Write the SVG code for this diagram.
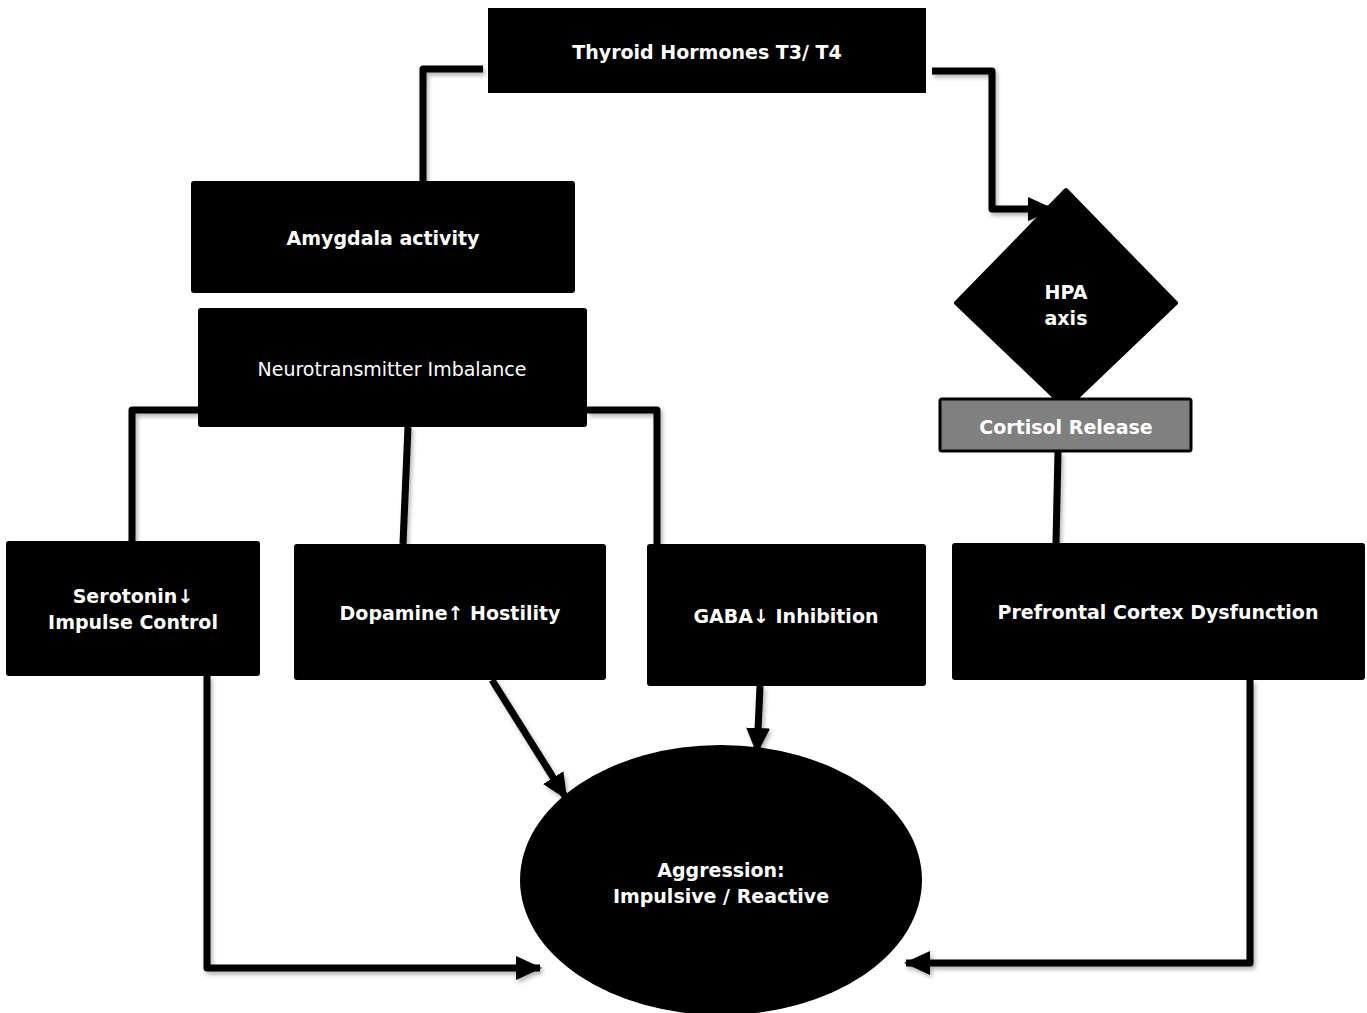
<svg xmlns="http://www.w3.org/2000/svg" width="1367" height="1013" viewBox="0 0 1367 1013">
<style>
.box{fill:#000}
.t{font-family:"DejaVu Sans","Liberation Sans",sans-serif;font-weight:bold;font-size:19px;fill:#fff;text-anchor:middle}
.n{font-family:"DejaVu Sans","Liberation Sans",sans-serif;font-weight:normal;font-size:19px;fill:#fff;text-anchor:middle}
.c{fill:none;stroke:#000;stroke-width:7;stroke-linejoin:round}
</style>
<defs>
<marker id="ah" markerUnits="userSpaceOnUse" markerWidth="26" markerHeight="26" viewBox="0 0 26 26" refX="24" refY="13" orient="auto">
<path d="M0,1 L26,13 L0,25 Z" fill="#000"/>
</marker>
<filter id="sh" x="-10%" y="-10%" width="120%" height="120%">
<feDropShadow dx="2" dy="3" stdDeviation="2" flood-color="#000" flood-opacity="0.3"/>
</filter>
</defs>
<rect width="1367" height="1013" fill="#fff"/>
<g id="connectors" filter="url(#sh)">
<path class="c" d="M483,69 H423 V182"/>
<path class="c" d="M932,71 H992 V209 H1052" marker-end="url(#ah)"/>
<path class="c" d="M198,410 H132 V541"/>
<path class="c" d="M408,427 L403,544"/>
<path class="c" d="M587,410 H657 V545"/>
<path class="c" d="M1058,452 L1056,543"/>
<path class="c" d="M207,676 V968 H540" marker-end="url(#ah)"/>
<path class="c" d="M492,680 L566,798" marker-end="url(#ah)"/>
<path class="c" d="M760,686 L757,752" marker-end="url(#ah)"/>
<path class="c" d="M1250,680 V963 H906" marker-end="url(#ah)"/>
</g>
<g id="thyroid"><rect class="box" x="488" y="8" width="438" height="85"/><text class="t" x="707" y="59">Thyroid Hormones T3/ T4</text></g>
<g id="amygdala"><rect class="box" x="191" y="181" width="384" height="112" rx="3"/><text class="t" x="383" y="245">Amygdala activity</text></g>
<g id="neuro"><rect class="box" x="198" y="308" width="389" height="119" rx="3"/><text class="n" x="392" y="376">Neurotransmitter Imbalance</text></g>
<g id="serotonin"><rect class="box" x="6" y="541" width="254" height="135" rx="3"/><text class="t" x="133" y="603">Serotonin↓</text><text class="t" x="133" y="629">Impulse Control</text></g>
<g id="dopamine"><rect class="box" x="294" y="544" width="312" height="136" rx="3"/><text class="t" x="450" y="620">Dopamine↑ Hostility</text></g>
<g id="gaba"><rect class="box" x="647" y="544" width="279" height="142" rx="3"/><text class="t" x="786" y="623">GABA↓ Inhibition</text></g>
<g id="prefrontal"><rect class="box" x="952" y="543" width="413" height="137" rx="3"/><text class="t" x="1158" y="619">Prefrontal Cortex Dysfunction</text></g>
<g id="hpa"><polygon class="box" points="1066,190 1176,303 1066,408 956,303" stroke="#000" stroke-width="4" stroke-linejoin="round"/><text class="t" x="1066" y="299">HPA</text><text class="t" x="1066" y="325">axis</text></g>
<g id="cortisol"><rect x="940" y="399" width="251" height="52" fill="#808080" stroke="#000" stroke-width="3" rx="2"/><text class="t" x="1066" y="434">Cortisol Release</text></g>
<g id="aggression"><ellipse class="box" cx="721" cy="880" rx="201" ry="135"/><text class="t" x="721" y="877">Aggression:</text><text class="t" x="721" y="903">Impulsive / Reactive</text></g>
</svg>
